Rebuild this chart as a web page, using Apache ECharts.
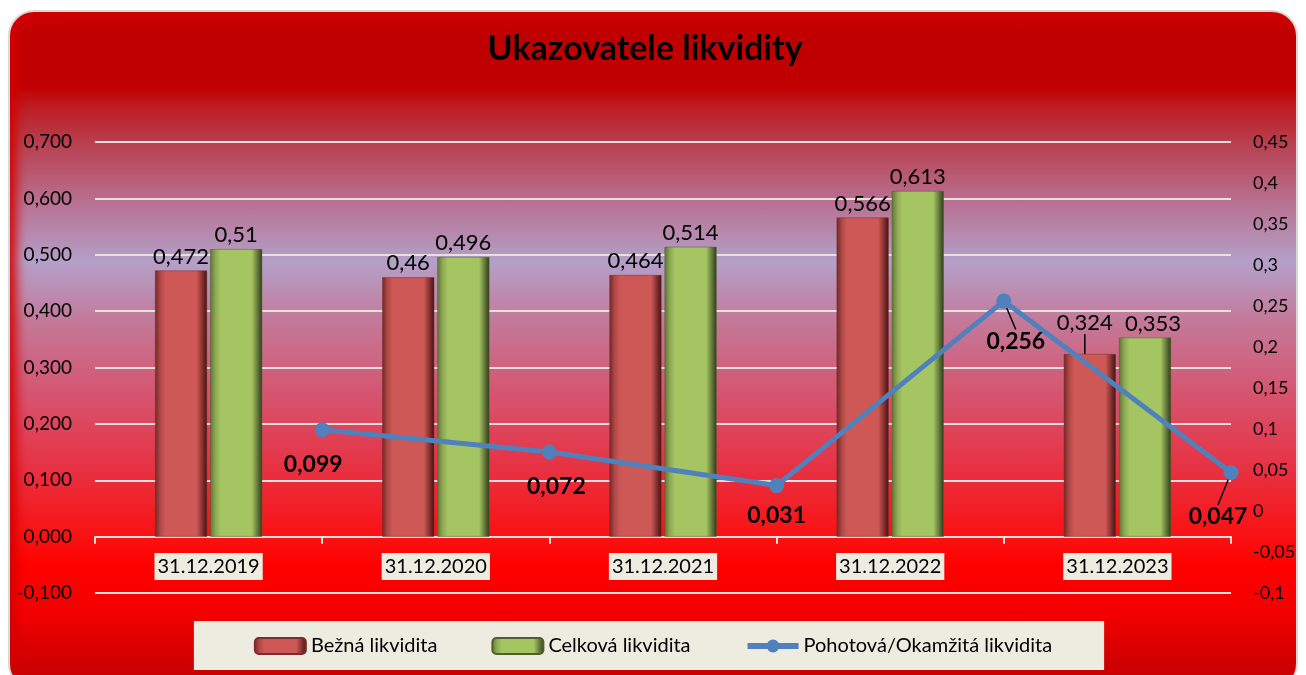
<!DOCTYPE html>
<html>
<head>
<meta charset="utf-8">
<script src="https://cdn.jsdelivr.net/npm/echarts@6/dist/echarts.min.js"></script>
<style>
	html, body { margin: 0; padding: 0; background: #fff; }
	#frame {
		position: absolute; left: 8px; top: 10px; width: 1290px; height: 680px;
		border: 2px solid #d9d9d9; border-radius: 26px; box-sizing: border-box;
		background: linear-gradient(to bottom, #d20000 0%, #c00000 3%, #c00000 11%, #bd1c22 14%,
			#b8404f 19.5%, #b87090 28%, #b4a0c8 37%, #c47898 46%, #d8506a 58%, #e83040 68%,
			#fa1010 78%, #ff0000 82%, #f40000 89%, #cc0000 97%);
		box-shadow: inset 12px 0 12px -6px #d40000;
	}
	#main { position: absolute; left: 0; top: 0; width: 1306px; height: 675px; }
</style>
</head>
<body>
<div id="frame"></div>
<div id="main"></div>
<script>
var categories = ['31.12.2019', '31.12.2020', '31.12.2021', '31.12.2022', '31.12.2023'];
var bezna = [0.472, 0.46, 0.464, 0.566, 0.324];
var celkova = [0.51, 0.496, 0.514, 0.613, 0.353];
var pohotova = [0.099, 0.072, 0.031, 0.256, 0.047];
var seriesNames = ['Bežná likvidita', 'Celková likvidita', 'Pohotová/Okamžitá likvidita'];

function fmt(v) {
	return String(+v.toFixed(3)).replace('.', ',');
}

var font = 'Lato, "Open Sans", sans-serif';

var redFill = new echarts.graphic.LinearGradient(0, 0, 1, 0, [
	{ offset: 0, color: '#6e2826' }, { offset: 0.1, color: '#b04846' },
	{ offset: 0.2, color: '#cd5856' }, { offset: 0.8, color: '#cd5856' },
	{ offset: 0.9, color: '#8c3432' }, { offset: 1, color: '#3e1412' }
]);
var greenFill = new echarts.graphic.LinearGradient(0, 0, 1, 0, [
	{ offset: 0, color: '#5e7236' }, { offset: 0.1, color: '#8ca852' },
	{ offset: 0.2, color: '#a5c462' }, { offset: 0.8, color: '#a5c462' },
	{ offset: 0.9, color: '#6a8040' }, { offset: 1, color: '#2e3a18' }
]);

// posun popisků čáry (dx, dy)
var lineLabelShift = [[-9, 11], [7, 11], [0, 6], [12, 16], [-13, 20]];

var myChart = echarts.init(document.getElementById('main'));
var option = {
	backgroundColor: 'transparent',
	textStyle: { fontFamily: font },
	title: {
		text: 'Ukazovatele likvidity',
		left: 640, top: 27, textAlign: 'center',
		textStyle: { fontSize: 34, fontWeight: 'bold', color: '#000', fontFamily: font }
	},
	legend: {
		data: [
			{ name: seriesNames[0] },
			{ name: seriesNames[1] },
			{ name: seriesNames[2], lineStyle: { width: 6 } }
		],
		left: 'center', top: 621,
		backgroundColor: '#eeece1',
		padding: [15, 52, 14, 60],
		itemWidth: 51, itemHeight: 16, itemGap: 54,
		textStyle: { fontSize: 20, color: '#000', fontFamily: font }
	},
	grid: { left: 95, right: 75, top: 142, bottom: 82, containLabel: false },
	xAxis: [{
		type: 'category',
		data: categories,
		axisLine: { onZero: true, lineStyle: { color: '#e6e0e0', width: 2 } },
		axisTick: { show: true, length: 7, lineStyle: { color: '#e6e0e0', width: 2 } },
		axisLabel: {
			margin: -40, fontSize: 20, color: '#000', fontFamily: font,
			backgroundColor: '#eeece1', padding: [4, 3, 3, 3]
		},
		splitLine: { show: false }
	}, {
		type: 'value', min: 0, max: 5, show: false
	}],
	yAxis: [{
		type: 'value', min: -0.1, max: 0.7, interval: 0.1,
		axisLine: { show: false }, axisTick: { show: false },
		axisLabel: {
			margin: 23, fontSize: 19, color: '#000', fontFamily: font,
			formatter: function(v) { return v.toFixed(3).replace('.', ','); }
		},
		splitLine: { lineStyle: { color: '#e6e0e0', width: 2 } }
	}, {
		type: 'value', position: 'right', min: -0.1, max: 0.45, interval: 0.05,
		axisLine: { show: false }, axisTick: { show: false },
		axisLabel: {
			margin: 22, fontSize: 18, color: '#000', fontFamily: font,
			formatter: function(v) { return String(+v.toFixed(2)).replace('.', ','); }
		},
		splitLine: { show: false }
	}],
	series: [{
		name: seriesNames[0],
		type: 'bar',
		barWidth: 52, barGap: '6%',
		itemStyle: { color: redFill, borderColor: '#7a2e2c', borderWidth: 0.5 },
		label: {
			show: true, position: 'top', distance: 3, fontSize: 22, color: '#000', fontFamily: font,
			formatter: function(p) { return fmt(p.value); }
		},
		labelLine: { show: false, lineStyle: { color: '#000', width: 1.5 } },
		labelLayout: function(p) {
			return p.dataIndex === 4 ? { dx: -5, dy: -17 } : {};
		},
		data: bezna.map(function(v, i) {
			return i === 4 ? { value: v, labelLine: { show: true } } : v;
		})
	}, {
		name: seriesNames[1],
		type: 'bar',
		barWidth: 52, barGap: '6%',
		itemStyle: { color: greenFill, borderColor: '#4e6028', borderWidth: 0.5 },
		label: {
			show: true, position: 'top', distance: 3, fontSize: 22, color: '#000', fontFamily: font,
			formatter: function(p) { return fmt(p.value); }
		},
		labelLayout: function(p) {
			return p.dataIndex === 4 ? { dx: 8 } : {};
		},
		data: celkova
	}, {
		name: seriesNames[2],
		type: 'line',
		xAxisIndex: 1, yAxisIndex: 1,
		symbol: 'circle', symbolSize: 15,
		lineStyle: { color: '#4f81bd', width: 5 },
		itemStyle: { color: '#4f81bd' },
		label: {
			show: true, position: 'bottom', distance: 5,
			fontSize: 23, fontWeight: 'bold', color: '#000', fontFamily: font,
			formatter: function(p) { return fmt(p.value[1]); }
		},
		labelLine: { show: false, lineStyle: { color: '#000', width: 1.5 } },
		labelLayout: function(p) {
			var s = lineLabelShift[p.dataIndex];
			return { dx: s[0], dy: s[1] };
		},
		data: pohotova.map(function(v, i) {
			var d = { value: [i + 1, v] };
			if (i >= 3) d.labelLine = { show: true };
			return d;
		}),
		z: 5
	}]
};
myChart.setOption(option);
</script>
</body>
</html>
